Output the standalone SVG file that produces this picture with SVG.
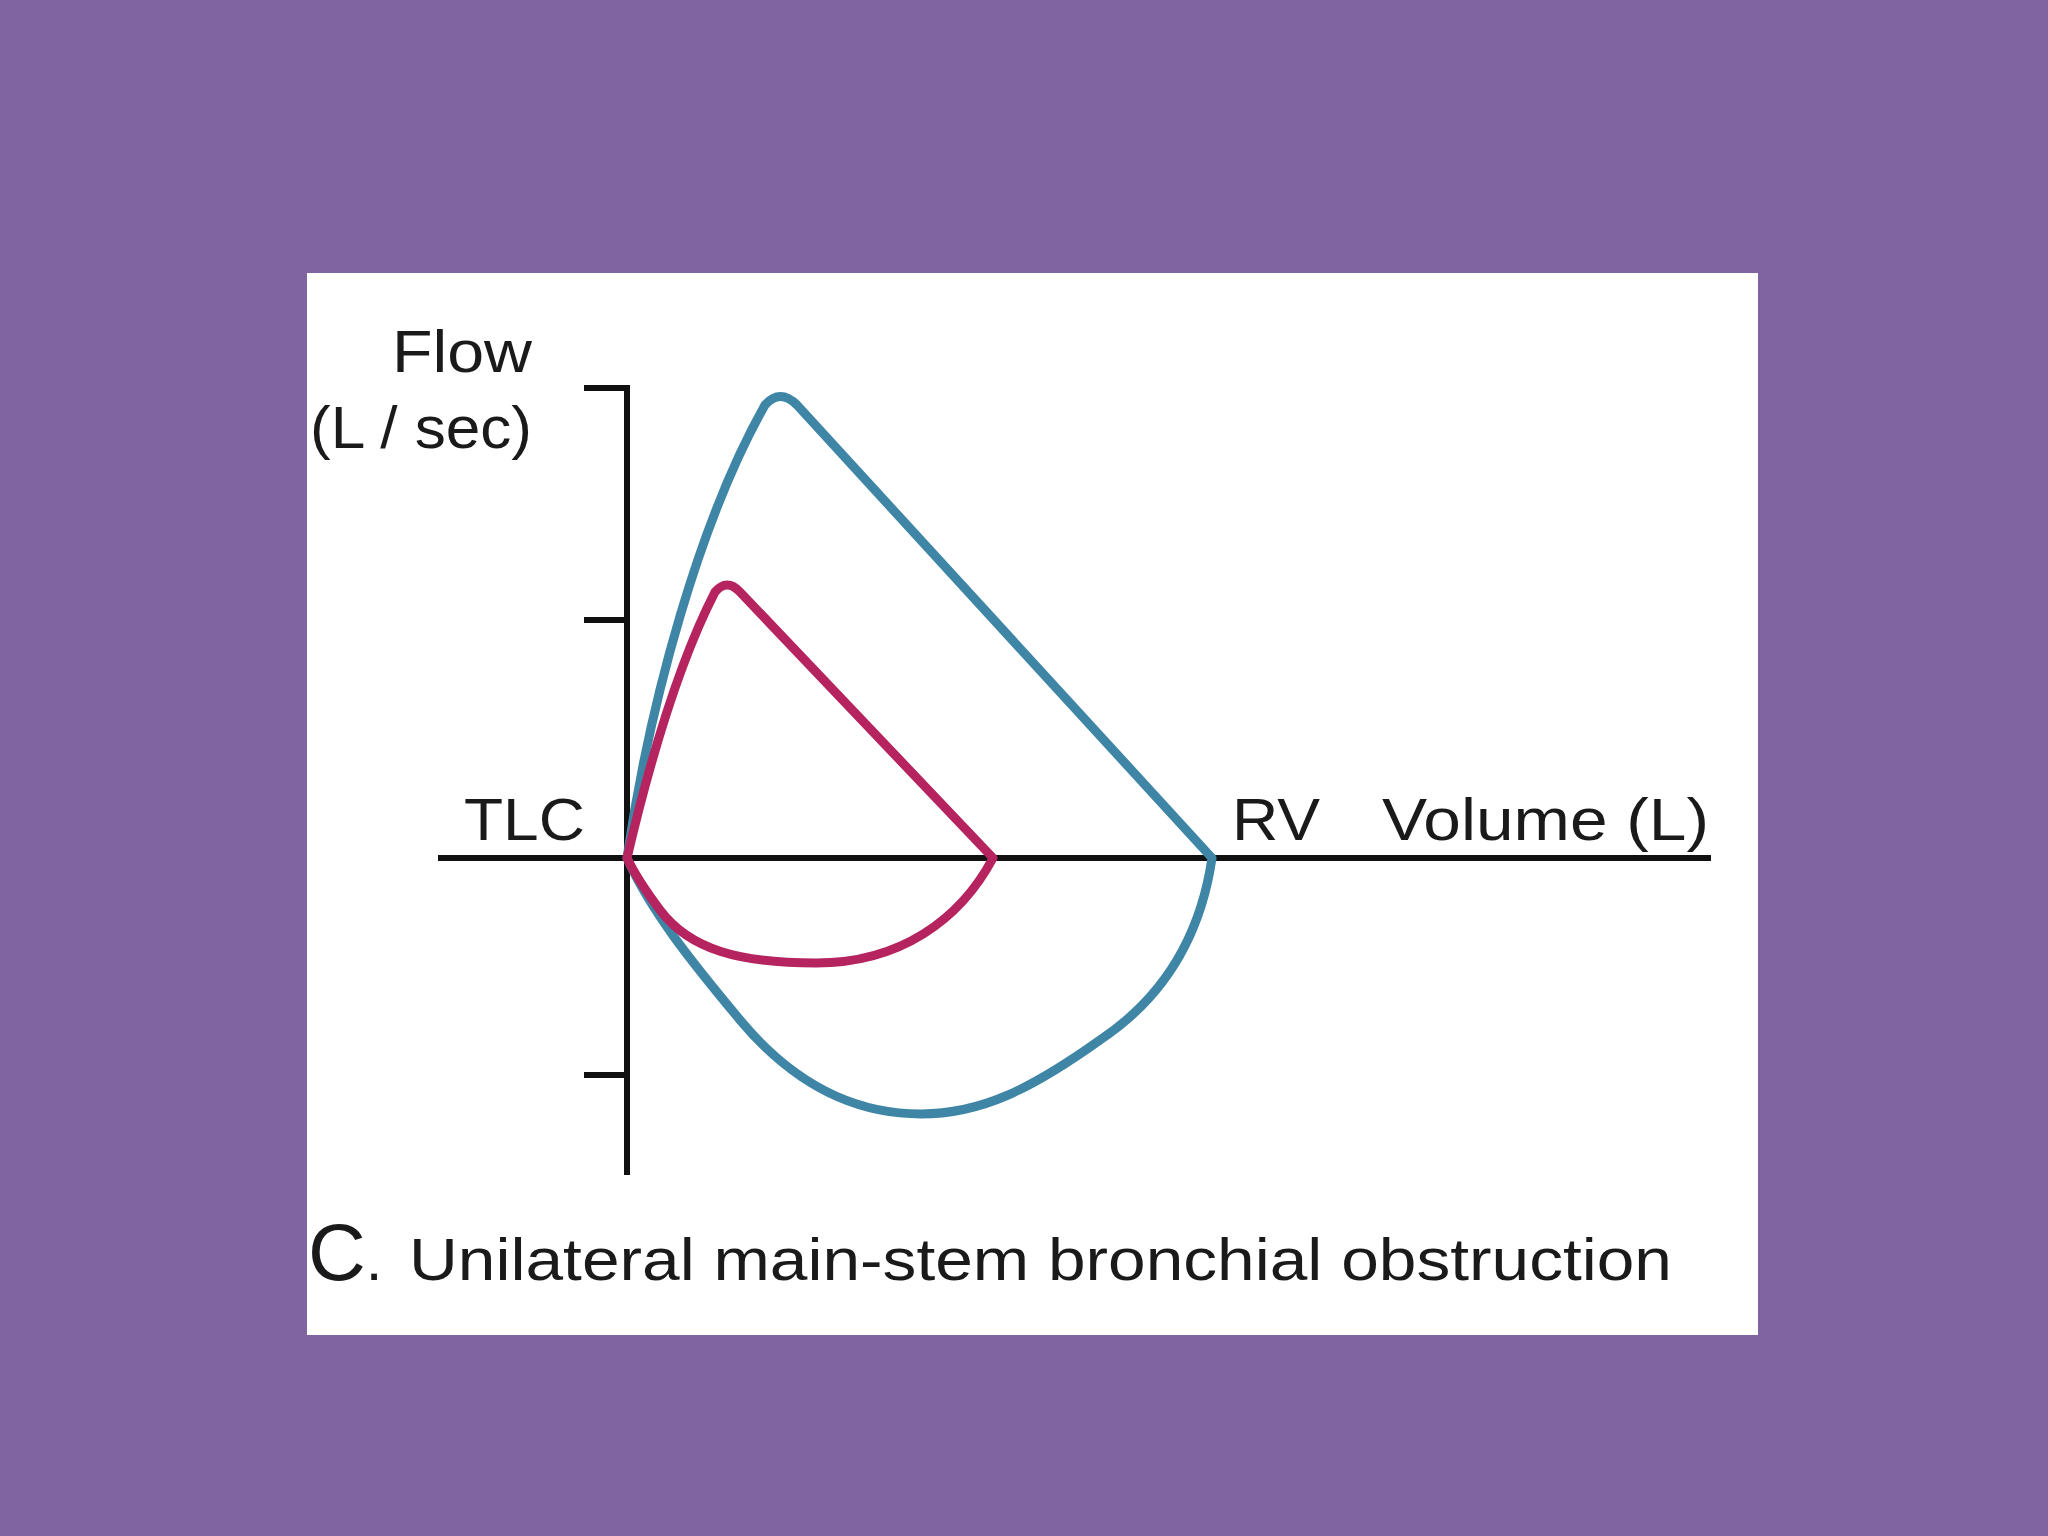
<svg xmlns="http://www.w3.org/2000/svg" width="2048" height="1536" viewBox="0 0 2048 1536">
<style>
.t{font-family:"Liberation Sans",Arial,sans-serif;fill:#1a1a1a}
.ax{stroke:#111;stroke-width:6;fill:none}
.loop{fill:none;stroke-width:9;stroke-linejoin:round}
</style>
<rect width="2048" height="1536" fill="#8064a2"/>
<rect x="307" y="273" width="1451" height="1062" fill="#fff"/>
<g id="axes">
<path class="ax" d="M584 388H627V1175M584 620H627M584 1075H627M438 858H1711"/>
</g>
<g id="connectors">
<path id="normal" class="loop" stroke="#3f86a6" d="M627 858C650 700 700 520 765 405Q780 388 797 405L1212 858C1200 940 1160 1000 1100 1040C1030 1090 980 1114 921 1114C850 1114 790 1080 740 1020C690 960 650 910 627 858Z"/>
<path id="obstructed" class="loop" stroke="#b5245f" d="M627 858C650 760 680 660 715 592Q727 578 740 592L993 858C960 920 900 963 816 963C740 963 690 950 660 910C645 890 635 875 627 858Z"/>
</g>
<g id="labels">
<text class="t" x="392" y="372" font-size="60" textLength="140" lengthAdjust="spacingAndGlyphs">Flow</text>
<text class="t" x="310" y="448" font-size="60" textLength="222" lengthAdjust="spacingAndGlyphs">(L / sec)</text>
<text class="t" x="464" y="840" font-size="60" textLength="121" lengthAdjust="spacingAndGlyphs">TLC</text>
<text class="t" x="1232" y="840" font-size="60" textLength="88" lengthAdjust="spacingAndGlyphs">RV</text>
<text class="t" x="1382" y="840" font-size="60" textLength="327" lengthAdjust="spacingAndGlyphs">Volume (L)</text>
<text class="t" x="308" y="1280" font-size="60"><tspan font-size="80">C</tspan>.<tspan x="409" textLength="1263" lengthAdjust="spacingAndGlyphs">Unilateral main-stem bronchial obstruction</tspan></text>
</g>
</svg>
